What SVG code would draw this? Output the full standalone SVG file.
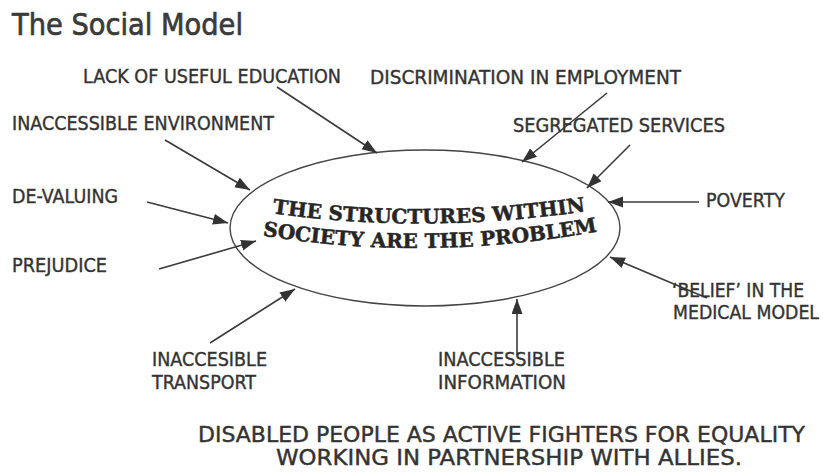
<svg xmlns="http://www.w3.org/2000/svg" width="823" height="472" viewBox="0 0 823 472">
<style>
.lbl{font-family:"DejaVu Sans","Verdana",sans-serif;font-size:19px;fill:#333;stroke:#333;stroke-width:0.4;}
.title{font-family:"DejaVu Sans","Verdana",sans-serif;font-size:30px;fill:#3a3a3a;stroke:#3a3a3a;stroke-width:0.7;}
.foot{font-family:"DejaVu Sans","Verdana",sans-serif;font-size:21px;fill:#333;stroke:#333;stroke-width:0.4;}
.core{font-family:"DejaVu Serif","Liberation Serif",serif;font-weight:bold;font-size:20px;fill:#262626;stroke:#262626;stroke-width:0.5;}
.arr{stroke:#3a3a3a;stroke-width:1.6;fill:none;marker-end:url(#ah);}
</style>
<defs>
<marker id="ah" markerUnits="userSpaceOnUse" markerWidth="16" markerHeight="12" refX="15" refY="5.5" orient="auto">
<path d="M0,0 L15,5.5 L0,11 Z" fill="#333"/>
</marker>
<path id="p1" d="M264,212 Q424,236 594,210"/>
<path id="p2" d="M254,234 Q424,264 606,230"/>
</defs>
<rect width="823" height="472" fill="#fff"/>
<text class="title" x="12" y="35" textLength="231" lengthAdjust="spacingAndGlyphs">The Social Model</text>

<g id="center">
<ellipse cx="425" cy="228" rx="195" ry="78" fill="none" stroke="#444" stroke-width="1.4"/>
<text class="core" text-anchor="middle"><textPath href="#p1" startOffset="50%">THE STRUCTURES WITHIN</textPath></text>
<text class="core" text-anchor="middle"><textPath href="#p2" startOffset="50%">SOCIETY ARE THE PROBLEM</textPath></text>
</g>

<g id="connectors">
<line class="arr" x1="277" y1="87" x2="377" y2="153"/>
<line class="arr" x1="607" y1="93" x2="522" y2="162"/>
<line class="arr" x1="165" y1="140" x2="250" y2="190"/>
<line class="arr" x1="630" y1="145" x2="587" y2="188"/>
<line class="arr" x1="147" y1="202" x2="228" y2="223"/>
<line class="arr" x1="699" y1="202" x2="608" y2="202"/>
<line class="arr" x1="159" y1="269" x2="256" y2="241"/>
<line class="arr" x1="707" y1="298" x2="610" y2="257"/>
<line class="arr" x1="210" y1="343" x2="295" y2="289"/>
<line class="arr" x1="517" y1="355" x2="517" y2="299"/>
</g>

<g id="education"><text class="lbl" x="83" y="83" textLength="258" lengthAdjust="spacingAndGlyphs">LACK OF USEFUL EDUCATION</text></g>
<g id="employment"><text class="lbl" x="370" y="84" textLength="311" lengthAdjust="spacingAndGlyphs">DISCRIMINATION IN EMPLOYMENT</text></g>
<g id="environment"><text class="lbl" x="12" y="130" textLength="262" lengthAdjust="spacingAndGlyphs">INACCESSIBLE ENVIRONMENT</text></g>
<g id="segregated"><text class="lbl" x="513" y="132" textLength="212" lengthAdjust="spacingAndGlyphs">SEGREGATED SERVICES</text></g>
<g id="devaluing"><text class="lbl" x="12" y="203" textLength="106" lengthAdjust="spacingAndGlyphs">DE-VALUING</text></g>
<g id="poverty"><text class="lbl" x="706" y="207" textLength="79" lengthAdjust="spacingAndGlyphs">POVERTY</text></g>
<g id="prejudice"><text class="lbl" x="12" y="272" textLength="95" lengthAdjust="spacingAndGlyphs">PREJUDICE</text></g>
<g id="medical">
<text class="lbl" x="672" y="297" textLength="132" lengthAdjust="spacingAndGlyphs">‘BELIEF’ IN THE</text>
<text class="lbl" x="673" y="319" textLength="146" lengthAdjust="spacingAndGlyphs">MEDICAL MODEL</text>
</g>
<g id="transport">
<text class="lbl" x="152" y="366" textLength="115" lengthAdjust="spacingAndGlyphs">INACCESIBLE</text>
<text class="lbl" x="152" y="389" textLength="104" lengthAdjust="spacingAndGlyphs">TRANSPORT</text>
</g>
<g id="information">
<text class="lbl" x="438" y="366" textLength="127" lengthAdjust="spacingAndGlyphs">INACCESSIBLE</text>
<text class="lbl" x="438" y="389" textLength="128" lengthAdjust="spacingAndGlyphs">INFORMATION</text>
</g>

<g id="footer">
<text class="foot" x="198" y="442" textLength="607" lengthAdjust="spacingAndGlyphs">DISABLED PEOPLE AS ACTIVE FIGHTERS FOR EQUALITY</text>
<text class="foot" x="276" y="465" textLength="466" lengthAdjust="spacingAndGlyphs">WORKING IN PARTNERSHIP WITH ALLIES.</text>
</g>
</svg>
